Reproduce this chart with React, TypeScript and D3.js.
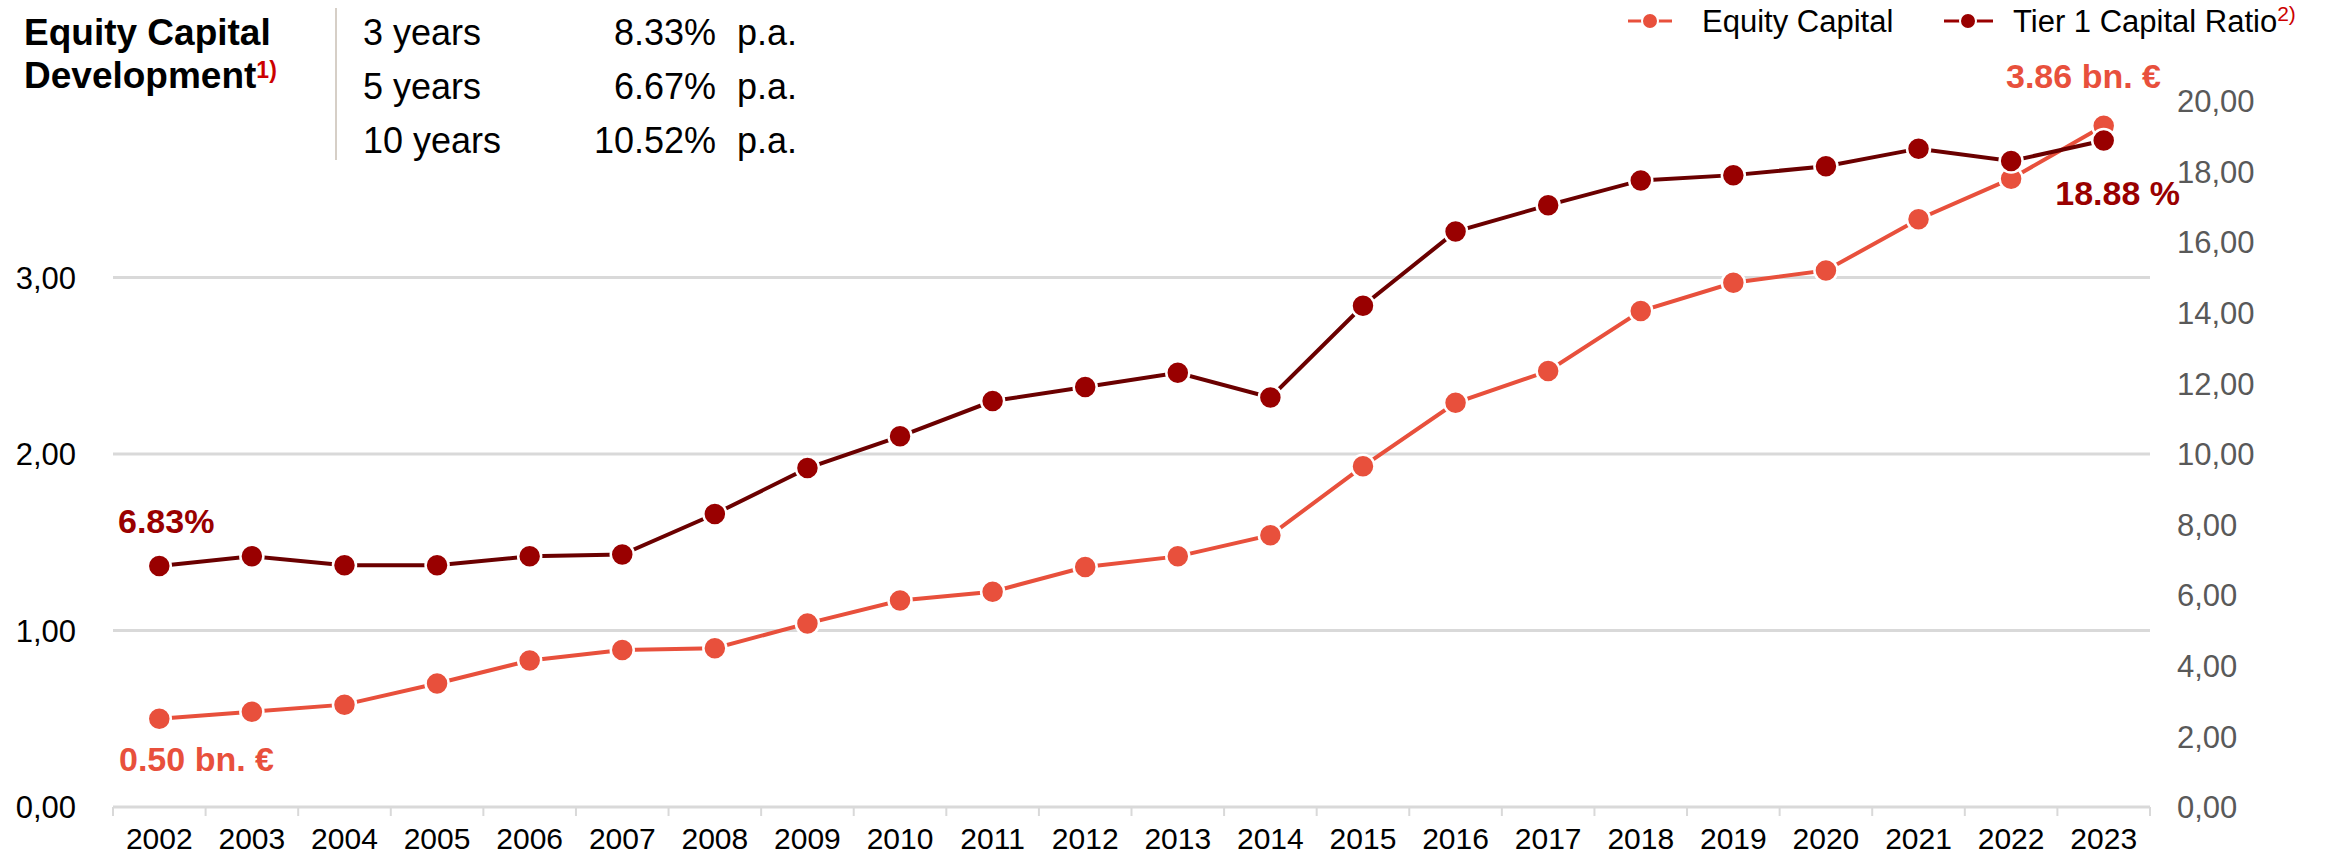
import React, { useEffect } from 'react';
import * as d3 from 'd3';

// data
const years = [
  '2002', '2003', '2004', '2005', '2006', '2007', '2008', '2009', '2010', '2011', '2012',
  '2013', '2014', '2015', '2016', '2017', '2018', '2019', '2020', '2021', '2022', '2023',
];
const equityCapital = [
  0.50, 0.54, 0.58, 0.70, 0.83, 0.89, 0.90, 1.04, 1.17, 1.22, 1.36,
  1.42, 1.54, 1.93, 2.29, 2.47, 2.81, 2.97, 3.04, 3.33, 3.56, 3.86,
];
const tier1Ratio = [
  6.83, 7.10, 6.85, 6.85, 7.10, 7.15, 8.30, 9.60, 10.50, 11.50, 11.90,
  12.30, 11.60, 14.20, 16.30, 17.05, 17.75, 17.90, 18.15, 18.65, 18.30, 18.88,
];
const leftTicks = [0, 1, 2, 3];
const rightTicks = [0, 2, 4, 6, 8, 10, 12, 14, 16, 18, 20];
const growthRows = [
  { period: '3 years', rate: '8.33%' },
  { period: '5 years', rate: '6.67%' },
  { period: '10 years', rate: '10.52%' },
];

const W = 2331;
const H = 859;
const FONT = '"Liberation Sans", Arial, Helvetica, sans-serif';
const EQ = '#e8503c';
const T1 = '#990000';
const T1_LINE = '#6b0000';
const GRID = '#d9d9d9';

const fmt = (v: number) => d3.format('.2f')(v).replace('.', ',');

const App: React.FC = () => {
  useEffect(() => {
    document.body.style.margin = '0';
  }, []);

  const x = d3.scaleBand<string>().domain(years).range([113, 2150]);
  const yL = d3.scaleLinear().domain([0, 4]).range([807, 101]);
  const yR = d3.scaleLinear().domain([0, 20]).range([807, 101]);
  const cx = (y: string) => (x(y) ?? 0) + x.bandwidth() / 2;

  const eqLine = d3.line<number>().x((_, i) => cx(years[i])).y((d) => yL(d));
  const t1Line = d3.line<number>().x((_, i) => cx(years[i])).y((d) => yR(d));

  const last = years.length - 1;
  const boundaries = [...years.map((y) => x(y) ?? 0), x.range()[1]];

  return (
    <svg width={W} height={H} style={{ display: 'block', fontFamily: FONT }}>
      <rect width={W} height={H} fill="#fff" />

      {/* title */}
      <text x={24} y={45} fontSize={37} fontWeight="bold" fill="#000">Equity Capital</text>
      <text x={24} y={88} fontSize={37} fontWeight="bold" fill="#000">
        Development
        <tspan fontSize={23} fill="#cc0000" dy={-10}>1)</tspan>
      </text>

      {/* growth table */}
      <line x1={336} x2={336} y1={8} y2={160} stroke="#d6cfc7" strokeWidth={2} />
      {growthRows.map((r, i) => (
        <g key={r.period} fontSize={36} fill="#000">
          <text x={363} y={45 + i * 54}>{r.period}</text>
          <text x={716} y={45 + i * 54} textAnchor="end">{r.rate}</text>
          <text x={737} y={45 + i * 54}>p.a.</text>
        </g>
      ))}

      {/* legend */}
      <g>
        <line x1={1628} x2={1672} y1={21} y2={21} stroke={EQ} strokeWidth={3} />
        <circle cx={1650} cy={21} r={8} fill={EQ} stroke="#fff" strokeWidth={2} />
        <text x={1702} y={32} fontSize={31} fill="#000">Equity Capital</text>
        <line x1={1944} x2={1993} y1={21} y2={21} stroke={T1} strokeWidth={3} />
        <circle cx={1968} cy={21} r={8} fill={T1} stroke="#fff" strokeWidth={2} />
        <text x={2013} y={32} fontSize={31} fill="#000">
          Tier 1 Capital Ratio
          <tspan fontSize={21} fill="#cc0000" dy={-11}>2)</tspan>
        </text>
      </g>

      {/* grid lines */}
      {leftTicks.map((t) => (
        <line key={t} x1={113} x2={2150} y1={yL(t)} y2={yL(t)} stroke={GRID} strokeWidth={3} />
      ))}
      {boundaries.map((b, i) => (
        <line key={i} x1={b} x2={b} y1={yL(0)} y2={yL(0) + 9} stroke={GRID} strokeWidth={2} />
      ))}

      {/* left axis labels */}
      {leftTicks.map((t) => (
        <text key={t} x={76} y={yL(t)} dy="0.36em" textAnchor="end" fontSize={31} fill="#000">
          {fmt(t)}
        </text>
      ))}
      {/* right axis labels */}
      {rightTicks.map((t) => (
        <text key={t} x={2177} y={yR(t)} dy="0.36em" fontSize={31} fill="#595959">
          {fmt(t)}
        </text>
      ))}
      {/* year labels */}
      {years.map((y) => (
        <text key={y} x={cx(y)} y={849} textAnchor="middle" fontSize={30} fill="#000">{y}</text>
      ))}

      {/* equity capital series */}
      <path d={eqLine(equityCapital) ?? ''} fill="none" stroke={EQ} strokeWidth={4} />
      {equityCapital.map((v, i) => (
        <circle key={i} cx={cx(years[i])} cy={yL(v)} r={11.5} fill={EQ} stroke="#fff" strokeWidth={2.5} />
      ))}

      {/* tier 1 ratio series */}
      <path d={t1Line(tier1Ratio) ?? ''} fill="none" stroke={T1_LINE} strokeWidth={4} />
      {tier1Ratio.map((v, i) => (
        <circle key={i} cx={cx(years[i])} cy={yR(v)} r={11.5} fill={T1} stroke="#fff" strokeWidth={2.5} />
      ))}

      {/* data labels */}
      <text x={118} y={533} fontSize={34} fontWeight="bold" fill={T1}>
        {d3.format('.2f')(tier1Ratio[0])}%
      </text>
      <text x={119} y={771} fontSize={34} fontWeight="bold" fill={EQ}>
        {d3.format('.2f')(equityCapital[0])} bn. €
      </text>
      <text x={2161} y={88} textAnchor="end" fontSize={34} fontWeight="bold" fill={EQ}>
        {d3.format('.2f')(equityCapital[last])} bn. €
      </text>
      <text x={2180} y={205} textAnchor="end" fontSize={34} fontWeight="bold" fill={T1}>
        {d3.format('.2f')(tier1Ratio[last])} %
      </text>
    </svg>
  );
};

export default App;
